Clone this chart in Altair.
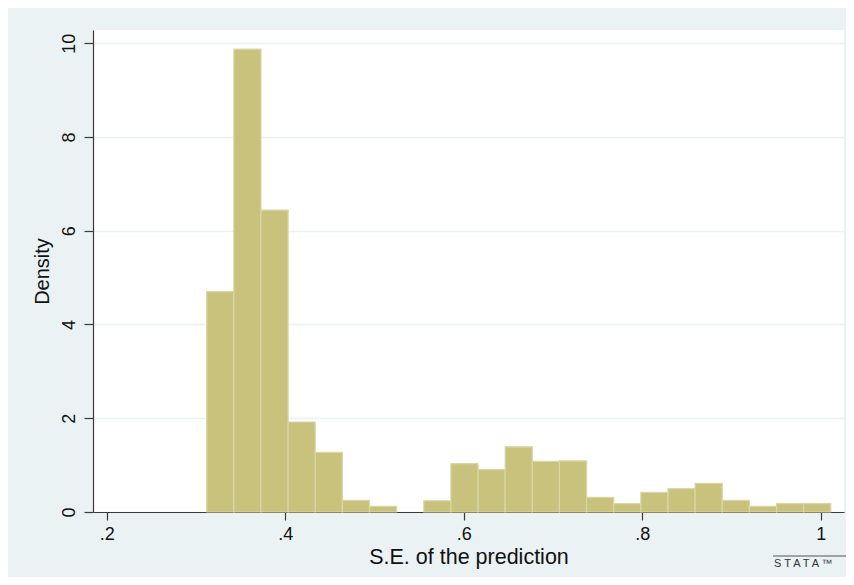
import altair as alt
import pandas as pd

# Histogram of S.E. of the prediction (Stata-style)
bin_start = 0.3121
bin_width = 0.0304
density = [4.70, 9.87, 6.44, 1.92, 1.27, 0.25, 0.12, 0.0, 0.24, 1.03, 0.905,
           1.39, 1.08, 1.09, 0.31, 0.18, 0.42, 0.50, 0.61, 0.25, 0.12, 0.18, 0.18]
x_ticks = [0.2, 0.4, 0.6, 0.8, 1.0]
y_ticks = [0, 2, 4, 6, 8, 10]

rows = []
for i, d in enumerate(density):
    lo = bin_start + i * bin_width
    rows.append({"lo": lo, "hi": lo + bin_width, "density": d})
df = pd.DataFrame(rows)
df = df[df["density"] > 0]

FONT = "Liberation Sans"
BG = "#EAF2F3"
AXIS = "#3a3a3a"

x_scale = alt.Scale(domain=[0.1847, 1.0261], nice=False, zero=False)
y_scale = alt.Scale(domain=[0, 10.28], nice=False)

bars = alt.Chart(df).mark_rect(
    color="#C8C27D", stroke="#DAD6A6", strokeWidth=1.2
).encode(
    x=alt.X("lo:Q", scale=x_scale,
            axis=alt.Axis(values=x_ticks, title="S.E. of the prediction",
                          labelExpr="datum.value >= 1 ? '1' : '.' + round(datum.value * 10)",
                          grid=False, tickSize=8, labelPadding=5, titlePadding=3,
                          labelFontSize=18, titleFontSize=21.5)),
    x2="hi:Q",
    y=alt.Y("density:Q", scale=y_scale,
            axis=alt.Axis(values=y_ticks, title="Density", grid=True,
                          gridColor=BG, gridWidth=1.6,
                          labelAngle=270, tickSize=9, labelPadding=6,
                          titlePadding=8, labelFontSize=18, titleFontSize=20)),
    y2=alt.datum(0),
)

logo_rule = alt.Chart(pd.DataFrame({"a": [0]})).mark_rule(color="#555555", strokeWidth=1).encode(
    x=alt.value(680), x2=alt.value(753), y=alt.value(526)
)
logo_text = alt.Chart(pd.DataFrame({"t": ["S T A T A \u2122"]})).mark_text(
    align="left", baseline="middle", fontSize=11, font=FONT, color="#333333"
).encode(text="t:N", x=alt.value(681), y=alt.value(534))

chart = alt.layer(bars, logo_rule, logo_text).properties(
    width=751, height=482,
    background=BG,
    padding={"left": 85, "top": 22, "right": 2, "bottom": 65},
    autosize=alt.AutoSizeParams(type="none"),
).configure_view(
    fill="white", stroke=None
).configure_axis(
    domainColor=AXIS, tickColor=AXIS, labelColor="#111111", titleColor="#111111",
    labelFont=FONT, titleFont=FONT, titleFontWeight="normal", domainWidth=1.2, tickWidth=1.2
)

chart.save("out.html", embed_options={"renderer": "svg", "actions": False})
